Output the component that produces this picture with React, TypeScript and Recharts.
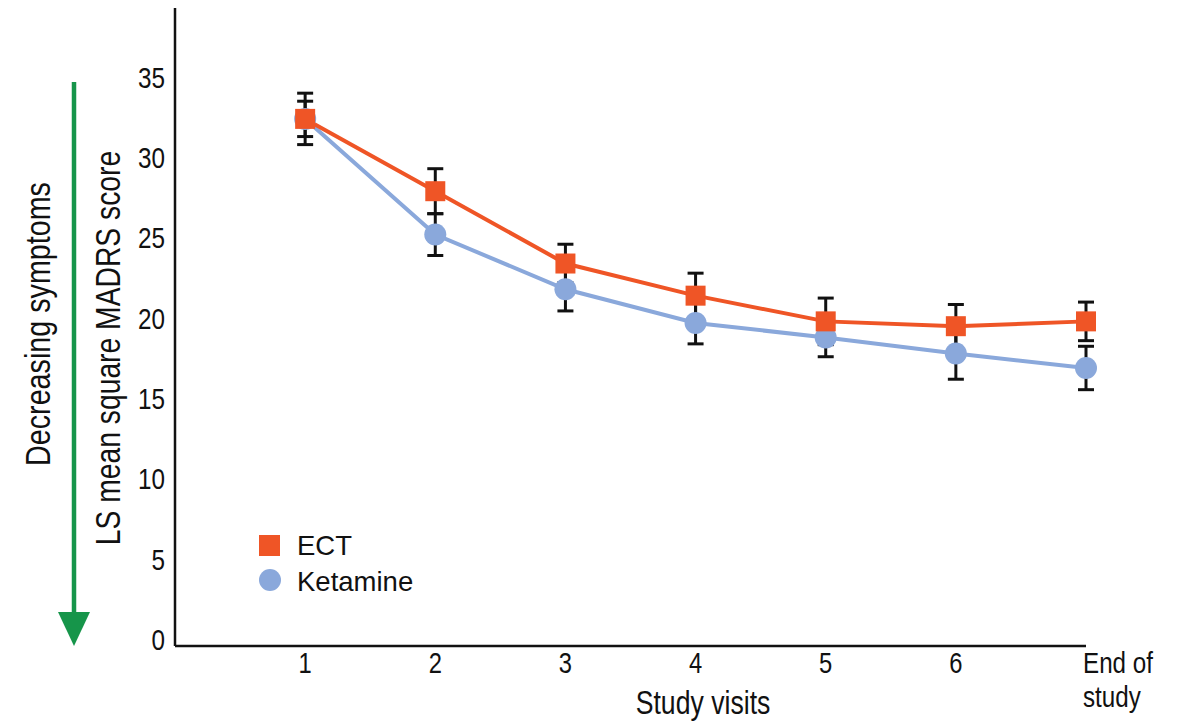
import React from 'react';
import { LineChart, Line, XAxis, YAxis, ErrorBar, Legend } from 'recharts';

// ---- data ----
const visits = [1, 2, 3, 4, 5, 6, 7];
const visitLabels = ['1', '2', '3', '4', '5', '6', 'End of study'];
const ectMean = [32.4, 27.9, 23.4, 21.4, 19.8, 19.5, 19.8];
const ectErr = [1.6, 1.4, 1.2, 1.4, 1.45, 1.35, 1.2];
const ketMean = [32.4, 25.2, 21.8, 19.7, 18.8, 17.8, 16.9];
const ketErr = [1.1, 1.3, 1.35, 1.3, 1.2, 1.6, 1.35];
const yTicks = [0, 5, 10, 15, 20, 25, 30, 35];
const seriesNames = ['ECT', 'Ketamine'];
const yTitle = 'LS mean square MADRS score';
const arrowTitle = 'Decreasing symptoms';
const xTitle = 'Study visits';

const data = visits.map((v, i) => ({
  visit: v,
  ect: ectMean[i],
  ectErr: ectErr[i],
  ket: ketMean[i],
  ketErr: ketErr[i],
}));

const ECT = '#EF5526';
const KET = '#8AA8DB';
const GREEN = '#16954A';
const INK = '#111111';
const FONT = '"Liberation Sans", Arial, sans-serif';
const NS = 0.82; // narrow horizontal scale

const XTick = (props: any) => {
  const { x, y, payload } = props;
  const idx = visits.indexOf(payload.value);
  const label = idx >= 0 ? visitLabels[idx] : '';
  if (label.includes(' ') && label.length > 2) {
    const parts = ['End of', 'study'];
    return (
      <text
        transform={`translate(${x - 3},${y + 27}) scale(${NS},1)`}
        textAnchor="start"
        fontFamily={FONT}
        fontSize={29.5}
        fill={INK}
      >
        <tspan x={0} y={0}>{parts[0]}</tspan>
        <tspan x={0} y={34}>{parts[1]}</tspan>
      </text>
    );
  }
  return (
    <text
      transform={`translate(${x},${y + 27}) scale(${NS},1)`}
      textAnchor="middle"
      fontFamily={FONT}
      fontSize={29}
      fill={INK}
    >
      {label}
    </text>
  );
};

const YTick = (props: any) => {
  const { x, y, payload } = props;
  return (
    <text
      transform={`translate(${x},${y}) scale(${NS},1)`}
      textAnchor="end"
      dy="0.355em"
      fontFamily={FONT}
      fontSize={29.6}
      fill={INK}
    >
      {payload.value}
    </text>
  );
};

const YTitles = () => (
  <g>
    <text
      transform={`translate(120,348) rotate(-90) scale(${NS},1)`}
      textAnchor="middle"
      fontFamily={FONT}
      fontSize={34.5}
      fill={INK}
    >
      {yTitle}
    </text>
    <text
      transform={`translate(50,324) rotate(-90) scale(${NS},1)`}
      textAnchor="middle"
      fontFamily={FONT}
      fontSize={35}
      fill={INK}
    >
      {arrowTitle}
    </text>
    <line x1={74} y1={82} x2={74} y2={615} stroke={GREEN} strokeWidth={4.5} />
    <polygon points="58,612 90,612 74,646" fill={GREEN} />
  </g>
);

const XTitle = () => (
  <text
    transform={`translate(703,714) scale(${NS},1)`}
    textAnchor="middle"
    fontFamily={FONT}
    fontSize={32.5}
    fill={INK}
  >
    {xTitle}
  </text>
);

const LegendContent = () => (
  <svg width={200} height={90}>
    <rect x={9} y={15} width={21} height={21} fill={ECT} />
    <text x={47} y={35} fontFamily={FONT} fontSize={27.5} fill={INK}>
      {seriesNames[0]}
    </text>
    <circle cx={20} cy={60} r={11} fill={KET} />
    <text x={47} y={71} fontFamily={FONT} fontSize={27.5} fill={INK}>
      {seriesNames[1]}
    </text>
  </svg>
);

const SquareDot = (p: any) => (
  <rect key={`sq-${p.index}`} x={p.cx - 10} y={p.cy - 10} width={20} height={20} fill={ECT} />
);
const CircleDot = (p: any) => (
  <circle key={`ci-${p.index}`} cx={p.cx} cy={p.cy} r={11} fill={KET} />
);

export default function App() {
  return (
    <div style={{ position: 'absolute', left: 0, top: 0, background: '#fff' }}>
      <LineChart
        width={1179}
        height={721}
        data={data}
        margin={{ top: 8, right: 93, bottom: 0, left: 100 }}
      >
        <XAxis
          dataKey="visit"
          type="number"
          domain={[0, 7]}
          ticks={visits}
          interval={0}
          height={75}
          tickLine={false}
          tickSize={0}
          tickMargin={0}
          axisLine={{ stroke: INK, strokeWidth: 2.5 }}
          tick={<XTick />}
          label={{ content: () => <XTitle /> }}
        />
        <YAxis
          type="number"
          domain={[-0.4, 39.3]}
          ticks={yTicks}
          interval={0}
          width={75}
          tickLine={false}
          tickSize={0}
          tickMargin={10}
          axisLine={{ stroke: INK, strokeWidth: 2.5 }}
          tick={<YTick />}
          label={{ content: () => <YTitles /> }}
        />
        <Legend
          layout="horizontal"
          verticalAlign="middle"
          align="center"
          content={() => <LegendContent />}
          wrapperStyle={{ left: 250, top: 520, width: 200, height: 90 }}
        />
        <Line
          dataKey="ket"
          name={seriesNames[1]}
          stroke={KET}
          strokeWidth={4}
          dot={CircleDot}
          activeDot={false}
          isAnimationActive={false}
        >
          <ErrorBar dataKey="ketErr" direction="y" width={8} strokeWidth={3} stroke={INK} />
        </Line>
        <Line
          dataKey="ect"
          name={seriesNames[0]}
          stroke={ECT}
          strokeWidth={4}
          dot={SquareDot}
          activeDot={false}
          isAnimationActive={false}
        >
          <ErrorBar dataKey="ectErr" direction="y" width={8} strokeWidth={3} stroke={INK} />
        </Line>
      </LineChart>
    </div>
  );
}
